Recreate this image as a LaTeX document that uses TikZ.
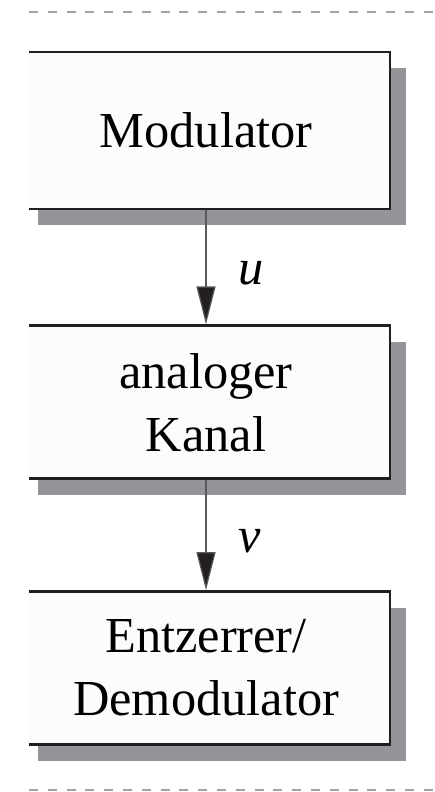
\documentclass[tikz,border=0pt]{standalone}
\usepackage{fontspec}
\setmainfont{Liberation Serif}
\usetikzlibrary{positioning, arrows.meta, shadows}
\definecolor{boxline}{HTML}{231F20}
\definecolor{boxshadow}{HTML}{939598}
\definecolor{boxfill}{HTML}{FCFCFD}
\definecolor{arrowline}{HTML}{58595B}
\definecolor{dashline}{HTML}{A0A2A5}

\begin{document}
\begin{tikzpicture}[x=0.5pt, y=-0.5pt,
    block/.style={draw=boxline, line width=1.4pt, fill=boxfill,
      minimum width=184pt, minimum height=76.5pt, text width=170pt, align=center, inner sep=0pt,
      drop shadow={shadow xshift=8pt, shadow yshift=-8pt, fill=boxshadow, opacity=1},
      font=\fontsize{25.2}{31.5}\selectfont},
    flow/.style={draw=arrowline, line width=0.6pt,
      -{Triangle[length=19pt, width=9.5pt, fill=boxline]}},
    sig/.style={right=16pt, inner sep=0pt, font=\fontsize{25.2}{31.5}\selectfont\itshape},
    divider/.style={draw=dashline, line width=0.9pt, dash pattern=on 4.5pt off 4.9pt}]
        \useasboundingbox (0,0) rectangle (434,792);
        \clip (29,0) rectangle (434,792);
        % Trennlinien oben und unten
        \draw[divider] (29,12) -- (434,12);
        \draw[divider] (29,790) -- (434,790);
        % Bloecke
        \node[block, minimum height=78.5pt] (mod) at (206,130.5) {Modulator};
        \node[block, below=57pt of mod] (chan) {analoger\\Kanal};
        \node[block, below=55pt of chan] (dem) {Entzerrer/\\Demodulator};
        % Signale
        \draw[flow] (mod) -- node[sig, pos=0.55] {u} (chan);
        \draw[flow] (chan) -- node[sig, pos=0.55] {v} (dem);
      \end{tikzpicture}
\end{document}
